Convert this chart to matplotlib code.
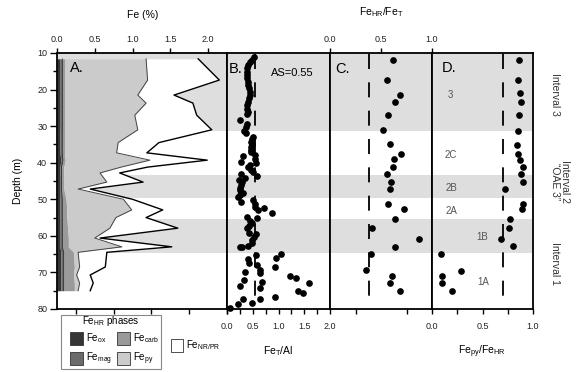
import numpy as np
import matplotlib
matplotlib.use("Agg")
import matplotlib.pyplot as plt
from matplotlib.patches import Rectangle
from matplotlib.ticker import MultipleLocator, FormatStrFormatter

plt.rcParams['font.family'] = ['Liberation Sans', 'DejaVu Sans']
plt.rcParams['mathtext.default'] = 'regular'
plt.rcParams['lines.scale_dashes'] = False

W, H = 586, 372

# --- Panel A: Fe speciation (%), stacked ---
depth_a = [11.6, 17.4, 21.5, 23.7, 27.0, 31.0, 34.5, 37.3, 39.3, 41.2, 42.8, 45.3,
           47.2, 50.0, 52.9, 55.0, 57.9, 60.6, 63.0, 64.5, 68.5, 70.7, 72.9, 75.0]
fe_ox = [0.04, 0.04, 0.04, 0.04, 0.04, 0.04, 0.04, 0.04, 0.05, 0.04, 0.04, 0.04,
         0.04, 0.04, 0.04, 0.04, 0.04, 0.04, 0.04, 0.05, 0.05, 0.05, 0.05, 0.05]
fe_mag = [0.03, 0.03, 0.03, 0.03, 0.03, 0.03, 0.03, 0.03, 0.03, 0.02, 0.02, 0.02,
          0.02, 0.03, 0.03, 0.03, 0.03, 0.03, 0.03, 0.04, 0.04, 0.04, 0.04, 0.04]
fe_carb = [0.03, 0.03, 0.03, 0.03, 0.03, 0.03, 0.03, 0.03, 0.03, 0.03, 0.03, 0.03,
           0.03, 0.05, 0.06, 0.06, 0.07, 0.08, 0.08, 0.13, 0.14, 0.13, 0.14, 0.14]
fe_py = [1.08, 1.10, 0.97, 1.08, 0.93, 0.97, 0.71, 0.69, 1.12, 0.76, 0.48, 0.57,
         0.19, 0.76, 0.86, 0.65, 0.56, 0.35, 0.71, 0.06, 0.07, 0.04, 0.07, 0.05]
fe_nrpr = [0.69, 0.95, 0.48, 0.62, 0.82, 0.98, 0.54, 0.40, 0.76, 0.35, 0.26, 0.48,
           0.16, 0.12, 0.41, 0.40, 0.90, 0.07, 0.66, 0.38, 0.34, 0.18, 0.18, 0.16]

# --- Panel B: FeT/Al ---
b_val = [0.52, 0.48, 0.44, 0.41, 0.39, 0.38, 0.38, 0.39, 0.40, 0.41, 0.43, 0.45, 0.44, 0.43,
         0.40, 0.38, 0.39, 0.40, 0.39, 0.25, 0.38, 0.36, 0.33, 0.36, 0.51, 0.49, 0.47, 0.49,
         0.46, 0.47, 0.46, 0.54, 0.31, 0.55, 0.27, 0.56, 0.44, 0.41, 0.47, 0.51, 0.28, 0.59,
         0.35, 0.24, 0.30, 0.28, 0.26, 0.25, 0.32, 0.26, 0.22, 0.51, 0.27, 0.55, 0.54, 0.71,
         0.61, 0.87, 0.38, 0.58, 0.45, 0.48, 0.42, 0.38, 0.43, 0.56, 0.52, 0.48, 0.48, 0.41,
         0.30, 0.26, 0.56, 1.04, 0.96, 0.41, 0.43, 0.58, 0.93, 0.64, 0.34, 0.65, 1.22, 1.34,
         0.33, 0.67, 1.60, 0.25, 0.64, 1.37, 1.48, 0.93, 0.32, 0.64, 0.48, 0.22, 0.06]
b_depth = [11.2, 11.8, 12.5, 13.3, 14.2, 15.1, 16.0, 16.9, 17.8, 18.7, 19.6, 20.6, 21.5, 22.4,
           23.3, 24.2, 25.2, 26.0, 26.8, 28.4, 29.3, 30.2, 31.3, 32.0, 32.9, 33.6, 34.3, 35.0,
           35.8, 36.5, 37.2, 38.0, 38.3, 38.9, 39.7, 40.2, 40.6, 41.3, 41.9, 42.5, 43.1, 43.6,
           44.2, 44.8, 45.4, 46.1, 46.8, 47.5, 48.3, 48.9, 49.4, 50.2, 50.7, 51.2, 52.0, 52.5,
           52.9, 53.8, 54.8, 55.2, 55.9, 56.6, 57.2, 57.9, 59.1, 59.5, 60.3, 61.2, 62.0, 62.7,
           63.1, 63.0, 65.2, 65.0, 66.1, 66.4, 67.5, 68.0, 68.4, 69.3, 70.0, 70.2, 71.0, 71.6,
           72.1, 72.5, 73.0, 73.6, 74.2, 75.1, 75.5, 76.6, 77.3, 77.3, 78.3, 78.6, 79.8]
as_value = 0.55

# --- Panel C: FeHR/FeT ---
c_val = [0.62, 0.56, 0.69, 0.64, 0.57, 0.52, 0.59, 0.70, 0.63, 0.62, 0.56, 0.60,
         0.59, 0.57, 0.73, 0.64, 0.41, 0.87, 0.64, 0.40, 0.35, 0.61, 0.59, 0.69]
c_depth = [11.9, 17.4, 21.5, 23.5, 27.0, 31.1, 35.0, 37.6, 39.1, 41.3, 43.1, 45.2,
           47.3, 51.3, 52.7, 55.3, 57.9, 60.9, 63.0, 65.0, 69.3, 71.0, 73.0, 75.1]
c_thresh = 0.38

# --- Panel D: Fepy/FeHR ---
d_val = [0.86, 0.85, 0.87, 0.88, 0.86, 0.85, 0.84, 0.85, 0.87, 0.90, 0.88, 0.90,
         0.72, 0.90, 0.89, 0.77, 0.76, 0.68, 0.80, 0.09, 0.29, 0.10, 0.10, 0.20]
d_depth = [11.9, 17.4, 21.0, 23.5, 27.0, 31.2, 35.2, 37.6, 39.3, 41.3, 43.1, 45.2,
           47.3, 51.4, 52.7, 55.3, 57.9, 60.9, 62.8, 65.0, 69.5, 71.0, 73.0, 75.1]
d_thresh = 0.70

# grey intervals and their labels
bands = [(10.0, 31.2), (43.4, 49.7), (55.5, 64.8)]
sub_labels = ["3", "2C", "2B", "2A", "1B", "1A"]
sub_x = [0.18, 0.19, 0.19, 0.19, 0.50, 0.51]
sub_depth = [21.6, 38.0, 46.9, 53.1, 60.4, 72.6]

band_col = '#dedede'
cols = ['#353535', '#6b6b6b', '#9a9a9a', '#cbcbcb', 'white']
dash = (10.8, (10.8, 9.6))

fig = plt.figure(figsize=(W / 100, H / 100), dpi=100)


def panel(x0, x1, xmax):
    ax = fig.add_axes([x0 / W, 1 - 309 / H, (x1 - x0) / W, 256 / H])
    ax.set_xlim(0, xmax)
    ax.set_ylim(80, 10)
    for a, b in bands:
        ax.axhspan(a, b, color=band_col, lw=0, zorder=0)
    for s in ax.spines.values():
        s.set_linewidth(1.3)
    ax.tick_params(which='both', direction='out', width=1.0, length=3.5,
                   labelsize=6.5, labelcolor='#222')
    ax.xaxis.set_major_locator(MultipleLocator(0.5))
    ax.xaxis.set_minor_locator(MultipleLocator(0.25))
    ax.xaxis.set_major_formatter(FormatStrFormatter('%.1f'))
    ax.set_yticks([])
    return ax


# A
axA = panel(57, 227, 170 / 75.5)
axA.yaxis.set_major_locator(MultipleLocator(10))
axA.yaxis.set_minor_locator(MultipleLocator(5))
axA.tick_params(axis='y', which='major', length=5, pad=2)
axA.tick_params(axis='y', which='minor', length=3)
axA.tick_params(axis='x', top=True, bottom=False, labeltop=True, labelbottom=False, pad=3)
comps = [fe_ox, fe_mag, fe_carb, fe_py, fe_nrpr]
left = np.zeros(len(depth_a))
for comp, c in zip(comps, cols):
    right = left + np.array(comp)
    axA.fill_betweenx(depth_a, left, right, color=c, lw=0, zorder=2)
    left = right
cum = np.cumsum(np.array(comps), axis=0)
axA.plot(cum[1], depth_a, color='#222', lw=0.5, zorder=3)
axA.plot(cum[3], depth_a, color='#444', lw=0.7, zorder=3)
axA.plot(cum[4], depth_a, color='k', lw=1.0, zorder=3)
axA.text(0.17, 14.2, "A.", fontsize=10.5, va='center', ha='left', zorder=5)

# B
axB = panel(227, 330, 2.0)
axB.tick_params(axis='x', pad=6)
axB.plot(b_val, b_depth, 'o', color='k', ms=3.8, clip_on=False, zorder=4)
axB.axvline(as_value, color='k', lw=1.3, ls=dash, zorder=3)
axB.text(0.03, 14.4, "B.", fontsize=10.5, va='center', ha='left')
axB.text(1.27, 15.6, "AS=0.55", fontsize=8, va='center', ha='center')

# C
axC = panel(330, 432, 1.0)
axC.tick_params(axis='x', top=True, bottom=False, labeltop=True, labelbottom=False, pad=3)
axC.plot(c_val, c_depth, 'o', color='k', ms=3.8, zorder=4)
axC.axvline(c_thresh, color='k', lw=1.3, ls=dash, zorder=3)
axC.text(0.05, 14.4, "C.", fontsize=10.5, va='center', ha='left')

# D
axD = panel(432, 533, 1.0)
axD.tick_params(axis='x', pad=6)
axD.plot(d_val, d_depth, 'o', color='k', ms=3.8, zorder=4)
axD.axvline(d_thresh, color='k', lw=1.3, ls=dash, zorder=3)
axD.text(0.10, 14.2, "D.", fontsize=10.5, va='center', ha='left')
for lab, x, y in zip(sub_labels, sub_x, sub_depth):
    axD.text(x, y, lab, fontsize=7, color='#555', ha='center', va='center')

# overlay in pixel coordinates for titles and legend
ov = fig.add_axes([0, 0, 1, 1])
ov.set_xlim(0, W)
ov.set_ylim(H, 0)
ov.axis('off')

ov.text(142.5, 14.5, "Fe (%)", fontsize=7.5, ha='center', va='center')
ov.text(381.5, 12, "Fe$_{HR}$/Fe$_{T}$", fontsize=7.5, ha='center', va='center')
ov.text(278, 351, "Fe$_{T}$/Al", fontsize=7.5, ha='center', va='center')
ov.text(482, 352, "Fe$_{py}$/Fe$_{HR}$", fontsize=7.5, ha='center', va='center')
ov.text(18, 181, "Depth (m)", fontsize=7.5, rotation=90, ha='center', va='center')

ov.text(555, 94.5, "Interval 3", fontsize=7.5, color='#333', rotation=270,
        ha='center', va='center')
ov.text(560, 181.5, "Interval 2\n\u201cOAE 3\u201d", fontsize=7.5, color='#333',
        rotation=270, ha='center', va='center', linespacing=0.9, multialignment='center')
ov.text(555, 263.5, "Interval 1", fontsize=7.5, color='#333', rotation=270,
        ha='center', va='center')

# legend: Fe_HR phases box
ov.add_patch(Rectangle((61, 315), 100, 54, facecolor='white', edgecolor='#888', lw=0.8))
ov.text(111, 321.5, "Fe$_{HR}$ phases", fontsize=7, ha='center', va='center')
leg_names = ["Fe$_{ox}$", "Fe$_{mag}$", "Fe$_{carb}$", "Fe$_{py}$"]
leg_x = [70, 70, 117, 117]
leg_y = [332, 352, 332, 352]
for name, c, x, y in zip(leg_names, cols[:4], leg_x, leg_y):
    ov.add_patch(Rectangle((x, y), 13, 13, facecolor=c, edgecolor='#333', lw=0.6))
    ov.text(x + 16, y + 6.5, name, fontsize=7, ha='left', va='center')
ov.add_patch(Rectangle((171, 339), 12, 13, facecolor='white', edgecolor='#333', lw=0.6))
ov.text(186, 345.5, "Fe$_{NR/PR}$", fontsize=7, ha='left', va='center')

fig.savefig("out.png", dpi=100)
